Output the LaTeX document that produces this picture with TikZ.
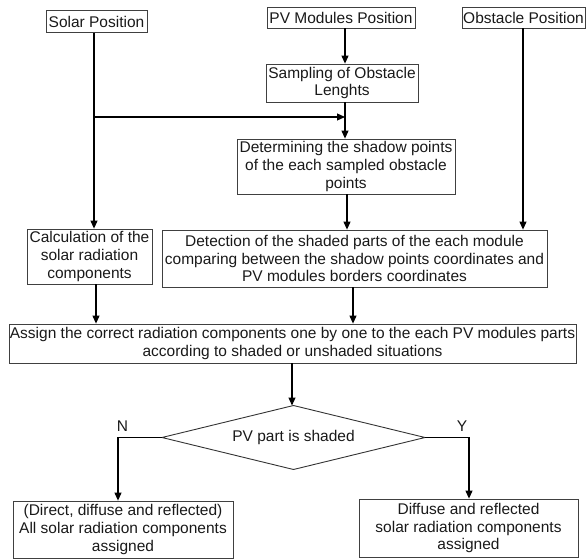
\documentclass[tikz,border=0pt]{standalone}
\usepackage{fontspec}
\setmainfont{Liberation Sans}
\usetikzlibrary{arrows.meta,calc}
\begin{document}
\begin{tikzpicture}[x=1pt,y=-1pt,
  box/.style={draw=black!75,line width=0.8pt,inner sep=0pt,align=center,
    font=\fontsize{15.5}{17.6}\selectfont,text=black!90},
  lbl/.style={inner sep=0pt,font=\fontsize{15.5}{17.6}\selectfont,text=black!90},
  conn/.style={line width=1.1pt,black},
  arr/.style={conn,-{Triangle[length=8pt,width=7pt]}}]
\useasboundingbox (0,0) rectangle (587,559);
% boxes
\node[box,minimum width=101pt,minimum height=21.6pt] (solar) at (96.5,21.5) {Solar Position};
\node[box,minimum width=148pt,minimum height=21pt] (pvpos) at (341,17.5) {PV Modules Position};
\node[box,minimum width=123pt,minimum height=21pt] (obst) at (523.5,17.5) {Obstacle Position};
\node[box,minimum width=152pt,minimum height=38pt] (samp) at (342,83) {Sampling of Obstacle\\Lenghts};
\node[box,minimum width=218pt,minimum height=55pt] (det) at (346,166.5) {Determining the shadow points\\of the each sampled obstacle\\points};
\node[box,minimum width=125pt,minimum height=55pt] (calc) at (89.5,256.5) {Calculation of the\\solar radiation\\components};
\node[box,minimum width=385pt,minimum height=57pt] (detect) at (354.5,258.5) {Detection of the shaded parts of the each module\\comparing between the shadow points coordinates and\\PV modules borders coordinates};
\node[box,minimum width=567pt,minimum height=39pt] (assign) at (292.5,343.5) {Assign the correct radiation components one by one to the each PV modules parts\\according to shaded or unshaded situations};
\node[lbl] (dia) at (293.5,437.5) {PV part is shaded};
\coordinate (dl) at (162,437.5);
\coordinate (dt) at (293.5,405.5);
\coordinate (dr) at (425,437.5);
\coordinate (db) at (293.5,469.5);
\draw[draw=black!80,line width=0.9pt] (dl) -- (dt) -- (dr) -- (db) -- cycle;
\node[box,minimum width=220pt,minimum height=57pt] (lbox) at (123,529.5) {(Direct, diffuse and reflected)\\All solar radiation components\\assigned};
\node[box,minimum width=219pt,minimum height=58pt] (rbox) at (468.5,528) {Diffuse and reflected\\solar radiation components\\assigned};
\node[lbl] (nlab) at (122.5,426) {N};
\node[lbl] (ylab) at (462,426) {Y};
% guide coordinates
\coordinate (sx) at (94,0);
\coordinate (px) at (345,0);
\coordinate (dx) at (347,0);
\coordinate (ox) at (523,0);
\coordinate (cx) at (96,0);
\coordinate (ax) at (353,0);
\coordinate (gx) at (292,0);
\coordinate (j1) at (94,117);
\coordinate (nx) at (118,0);
\coordinate (yx) at (469,0);
% connectors
\draw[arr] (solar.south -| sx) -- (calc.north -| sx);
\draw[arr] (j1) -- (j1 -| px);
\draw[arr] (pvpos.south -| px) -- (samp.north -| px);
\draw[arr] (samp.south -| px) -- (det.north -| px);
\draw[arr] (det.south -| dx) -- (detect.north -| dx);
\draw[arr] (obst.south -| ox) -- (detect.north -| ox);
\draw[arr] (calc.south -| cx) -- (assign.north -| cx);
\draw[arr] (detect.south -| ax) -- (assign.north -| ax);
\draw[arr] (assign.south -| gx) -- (dt -| gx);
\draw[arr] (dl) -- (dl -| nx) -- (lbox.north -| nx);
\draw[arr] (dr) -- (dr -| yx) -- (rbox.north -| yx);
\end{tikzpicture}
\end{document}
